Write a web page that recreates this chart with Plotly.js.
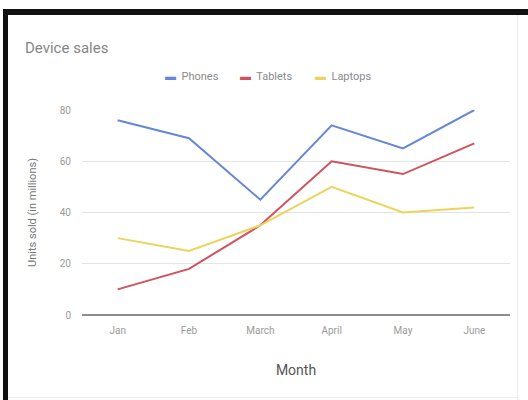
<!DOCTYPE html>
<html>
<head>
<meta charset="utf-8">
<script src="https://cdn.plot.ly/plotly-3.0.1.min.js"></script>
<style>
  html, body { margin: 0; padding: 0; background: #ffffff; }
  #wrap { position: relative; width: 528px; height: 400px; overflow: hidden; }
  #chart { position: absolute; left: 0; top: 0; width: 528px; height: 400px; }
  .frame { position: absolute; background: #111111; pointer-events: none; }
</style>
</head>
<body>
<div id="wrap">
  <div id="chart"></div>
  <div class="frame" style="left:3px; top:9px; width:525px; height:6px;"></div>
  <div class="frame" style="left:3px; top:9px; width:5px; height:391px;"></div>
  <div class="frame" style="left:517px; top:15px; width:1px; height:385px; background:#eeeeee;"></div>
  <div class="frame" style="left:8px; top:397px; width:510px; height:1px; background:#eeeeee;"></div>
</div>
<script>
const months = ["Jan", "Feb", "March", "April", "May", "June"];
const seriesNames = ["Phones", "Tablets", "Laptops"];
const phones = [76, 69, 45, 74, 65, 80];
const tablets = [10, 18, 35, 60, 55, 67];
const laptops = [30, 25, 35, 50, 40, 42];
const yTicks = [0, 20, 40, 60, 80];
const colors = ["#6587d6", "#d0535c", "#ecd35c"];

const values = [phones, tablets, laptops];
const traces = values.map((v, i) => ({
  type: "scatter",
  mode: "lines",
  name: seriesNames[i],
  x: months,
  y: v,
  line: { color: colors[i], width: 2 },
  showlegend: false
}));

const legendX = [0.189, 0.364, 0.540];
const annotations = seriesNames.map((n, i) => ({
  xref: "paper", yref: "paper",
  x: legendX[i], y: 1.161,
  xanchor: "left", yanchor: "middle",
  showarrow: false,
  text: '<span style="color:' + colors[i] + '">▬</span>  ' + n,
  font: { family: "Roboto, 'Noto Sans', sans-serif", size: 11, color: "#8a8a8a" }
}));

const layout = {
  width: 528, height: 400,
  margin: { l: 82, r: 18, t: 110, b: 85 },
  paper_bgcolor: "#ffffff",
  plot_bgcolor: "#ffffff",
  font: { family: "Roboto, 'Noto Sans', sans-serif" },
  title: {
    text: "Device sales",
    xref: "container", yref: "container",
    x: 25 / 528, xanchor: "left",
    y: 1 - 48 / 400, yanchor: "middle",
    font: { size: 15, color: "#858585" }
  },
  xaxis: {
    type: "category",
    range: [-0.5, 5.5],
    showgrid: false,
    showline: false,
    zeroline: false,
    ticks: "",
    ticklabelstandoff: 8,
    tickfont: { size: 10, color: "#9a9a9a" },
    title: { text: "Month", standoff: 30, font: { size: 14, color: "#555555" } }
  },
  yaxis: {
    range: [0, 80],
    tickvals: yTicks,
    ticktext: yTicks.map(String),
    showgrid: true,
    gridcolor: "#e4e4e4",
    gridwidth: 1,
    zeroline: true,
    zerolinecolor: "#8c8c8c",
    zerolinewidth: 2,
    showline: false,
    ticks: "",
    ticklabelstandoff: 10,
    tickfont: { size: 10, color: "#9a9a9a" },
    title: { text: "Units sold (in millions)", standoff: 20, font: { size: 11, color: "#777777" } }
  },
  annotations: annotations
};

Plotly.newPlot("chart", traces, layout, { displayModeBar: false, staticPlot: true });
</script>
</body>
</html>
